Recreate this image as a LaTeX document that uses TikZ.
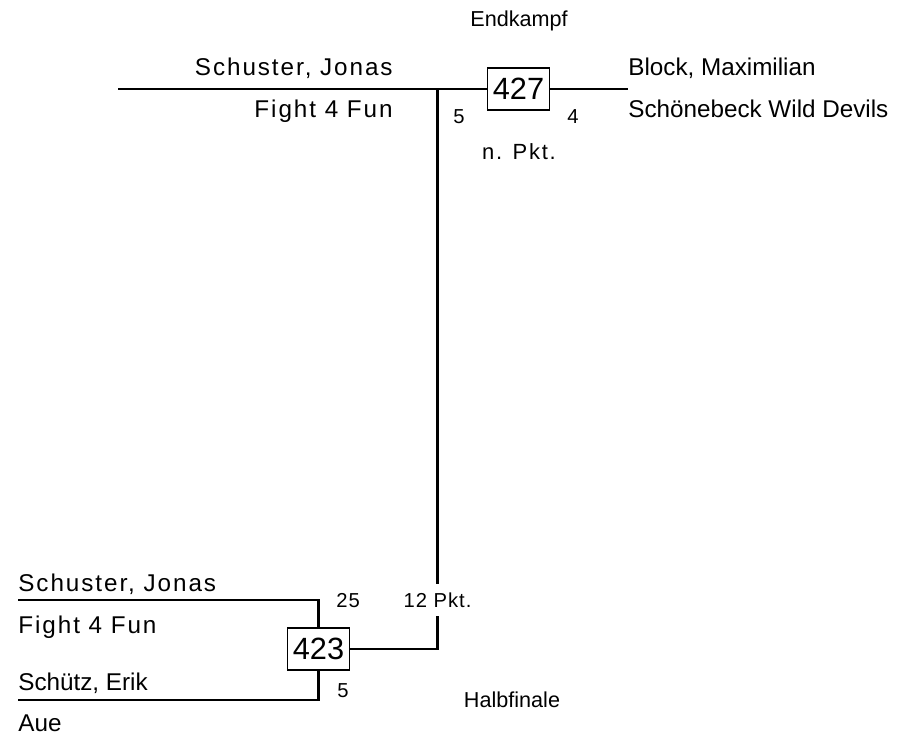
\documentclass[tikz,border=0pt]{standalone}
\usepackage{fontspec}
\setmainfont{Liberation Sans}
\tikzset{
  kampf/.style     = {rectangle, draw, line width=0.6pt, minimum width=1.24cm, minimum height=0.84cm, inner sep=0, font=\fontsize{17.5}{18}\selectfont},
  spieler/.style   = {inner sep=0, font=\fontsize{13.8}{16}\selectfont},
  spielersp/.style = {inner sep=0, font=\fontsize{13.8}{16}\selectfont\addfontfeature{LetterSpace=8}},
  punkte/.style    = {inner sep=0, font=\fontsize{11.5}{13}\selectfont\addfontfeature{LetterSpace=5}},
  runde/.style     = {inner sep=0, font=\fontsize{12.3}{14}\selectfont},
  linie/.style     = {line width=1.5pt}
}

\begin{document}
\begin{tikzpicture}[x=0.02cm, y=-0.02cm]
  \useasboundingbox (0,0) rectangle (910,737);
  % Endkampf
  \node[runde, anchor=base] (end) at (519,27) {Endkampf};
  \node[kampf] (K427) at (518.5,89) {427};
  \coordinate (a1) at (118,89); \coordinate (a2) at (628,89); \coordinate (v1) at (437.5,89);
  \draw[linie] (a1)--(K427.west); \draw[linie] (K427.east)--(a2);
  \node[spielersp, anchor=base east] (r1) at (393,75)  {Schuster, Jonas};
  \node[spielersp, anchor=base east] (c1) at (393,117) {Fight 4 Fun};
  \node[spieler, anchor=base west]   (r2) at (628,75)  {Block, Maximilian};
  \node[spieler, anchor=base west]   (c2) at (628,117) {Schönebeck Wild Devils};
  \node[punkte, anchor=base west] (s1) at (453,123) {5};
  \node[punkte, anchor=base west] (s2) at (567,123) {4};
  \node[spielersp, font=\fontsize{12.5}{14}\selectfont\addfontfeature{LetterSpace=8}, anchor=base] (erg1) at (519,159) {n. Pkt.};
  % Halbfinale
  \node[kampf] (K423) at (318.5,649) {423};
  \node[punkte, fill=white, minimum height=0.64cm, inner xsep=2pt] (p12) at (437.5,600) {12 Pkt.};
  \draw[linie] (v1)--(p12.north); \draw[linie] (p12.south) |- (K423.east);
  \coordinate (b1) at (18,600); \coordinate (b2) at (18,700);
  \draw[linie] (b1) -| (K423.north); \draw[linie] (b2) -| (K423.south);
  \node[spielersp, anchor=base west] (r3) at (18,591) {Schuster, Jonas};
  \node[spielersp, anchor=base west] (c3) at (18,633) {Fight 4 Fun};
  \node[spieler, anchor=base west]   (r4) at (18,690) {Schütz, Erik};
  \node[spieler, anchor=base west]   (c4) at (18,731) {Aue};
  \node[punkte, anchor=base west] (s3) at (336,607) {25};
  \node[punkte, anchor=base west] (s4) at (337,697) {5};
  \node[runde, anchor=base] (halb) at (512,707) {Halbfinale};
\end{tikzpicture}
\end{document}
